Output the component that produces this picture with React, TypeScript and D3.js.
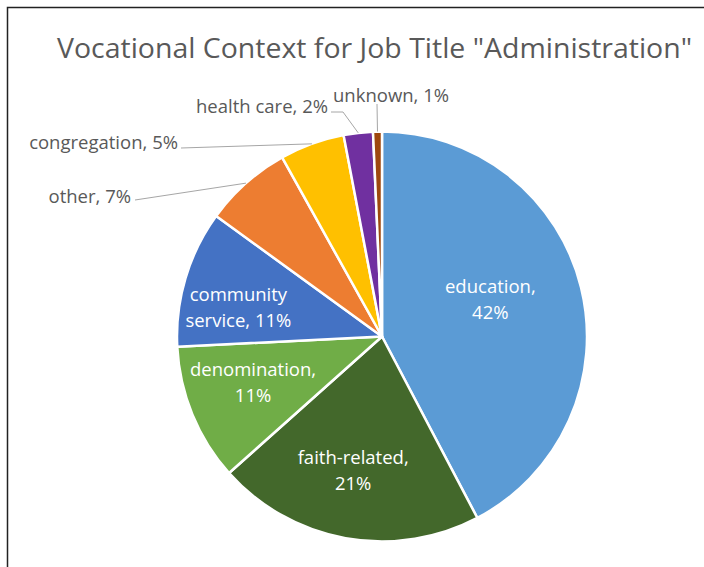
import React from "react";
import * as d3 from "d3";

const categories = ["education", "faith-related", "denomination", "community service", "other", "congregation", "health care", "unknown"];
const values = [42.3, 21.1, 10.8, 10.8, 6.9, 5.1, 2.3, 0.7];
const percentLabels = ["42%", "21%", "11%", "11%", "7%", "5%", "2%", "1%"];
const colors = ["#5B9BD5", "#43682B", "#70AD47", "#4472C4", "#ED7D31", "#FFC000", "#7030A0", "#9E480E"];

const W = 704, H = 567;
const cx = 382, cy = 336.5, R = 205;

// inside label lines and offsets (layout)
const insideLines: Record<number, string[]> = {
  0: ["education,", "42%"],
  1: ["faith-related,", "21%"],
  2: ["denomination,", "11%"],
  3: ["community", "service, 11%"],
};
const insideOffset: Record<number, [number, number]> = {
  0: [-27, -3],
  1: [-4, -3],
  2: [0, -6],
  3: [-10, 11],
};
const outsideLabel: Record<number, { x: number; y: number; anchor: string; lx: number; ly: number; bend: number }> = {
  4: { x: 131, y: 203, anchor: "end", lx: 135, ly: 200, bend: 0 },
  5: { x: 178, y: 149, anchor: "end", lx: 181, ly: 148, bend: 0 },
  6: { x: 328, y: 113, anchor: "end", lx: 331, ly: 112, bend: 12 },
  7: { x: 333, y: 102, anchor: "start", lx: 377, ly: 104, bend: 0 },
};

export default function App() {
  const pie = d3.pie<number>().sort(null).value((d) => d);
  const arcs = pie(values);
  const arc = d3.arc<d3.PieArcDatum<number>>().innerRadius(0).outerRadius(R);
  const font = "'Open Sans', sans-serif";
  return (
    <svg width={W} height={H} style={{ position: "absolute", left: 0, top: 0 }}>
      <rect x={0} y={0} width={W} height={H} fill="#fff" />
      <path d={`M7.5,${H} V7.5 H${W}`} fill="none" stroke="#222" strokeWidth={1.5} />
      <text x={374.5} y={58} textAnchor="middle" fontFamily={font} fontSize={27} fill="#595959" textLength={635} lengthAdjust="spacingAndGlyphs">
        Vocational Context for Job Title "Administration"
      </text>
      <g transform={`translate(${cx},${cy})`}>
        {arcs.map((a, i) => (
          <path key={i} d={arc(a) || ""} fill={colors[i]} stroke="#fff" strokeWidth={2.5} strokeLinejoin="round" />
        ))}
      </g>
      {arcs.map((a, i) => {
        if (!insideLines[i]) return null;
        const lr = R * 0.68;
        const mid = (a.startAngle + a.endAngle) / 2;
        const [ox, oy] = insideOffset[i];
        const x = cx + lr * Math.sin(mid) + ox;
        const y = cy - lr * Math.cos(mid) + oy;
        const lines = insideLines[i];
        return (
          <text key={"in" + i} x={x} y={y} textAnchor="middle" fontFamily={font} fontSize={18.5} fill="#fff">
            {lines.map((l, k) => (
              <tspan key={k} x={x} y={y - 13 + 6 + k * 26}>{l}</tspan>
            ))}
          </text>
        );
      })}
      {arcs.map((a, i) => {
        const o = outsideLabel[i];
        if (!o) return null;
        const mid = (a.startAngle + a.endAngle) / 2;
        const ex = cx + R * Math.sin(mid);
        const ey = cy - R * Math.cos(mid);
        const pts = o.bend ? `${o.lx},${o.ly} ${o.lx + o.bend},${o.ly} ${ex},${ey}` : `${o.lx},${o.ly} ${ex},${ey}`;
        return (
          <g key={"out" + i}>
            <polyline points={pts} fill="none" stroke="#A6A6A6" strokeWidth={1} />
            <text x={o.x} y={o.y} textAnchor={o.anchor} fontFamily={font} fontSize={18.5} fill="#595959">
              {categories[i]}, {percentLabels[i]}
            </text>
          </g>
        );
      })}
    </svg>
  );
}
